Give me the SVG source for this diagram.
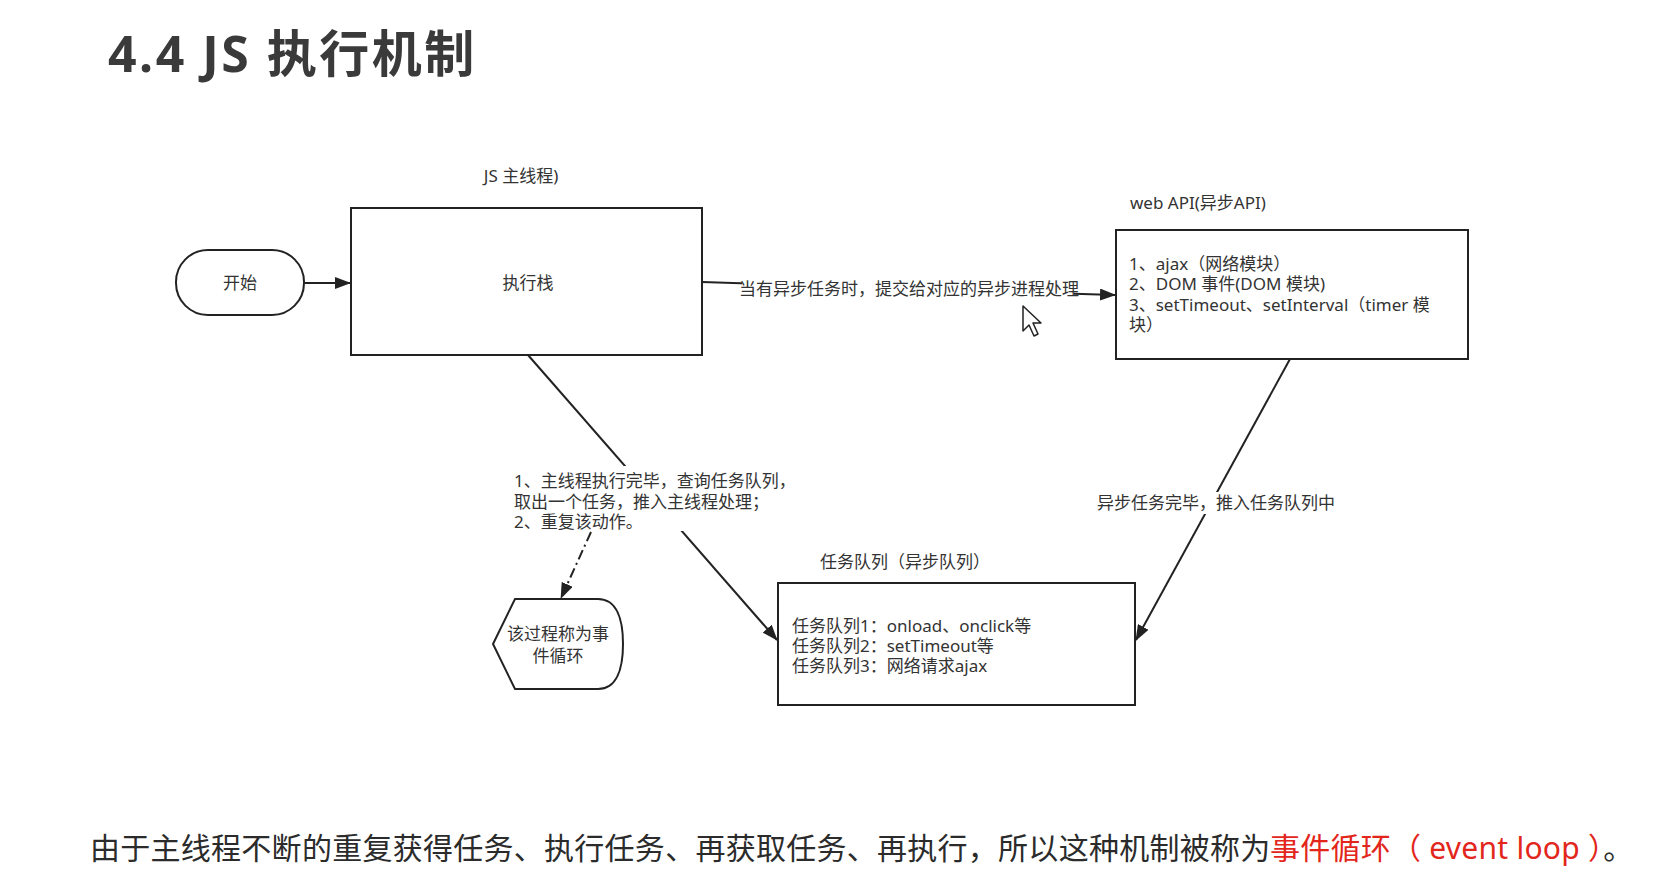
<svg xmlns="http://www.w3.org/2000/svg" width="1656" height="889" viewBox="0 0 1656 889">
  <style>
    .t { font-family: 'Noto Sans', 'Noto Sans CJK SC', sans-serif; font-size: 17px; fill: #333; }
    .box { fill: #fff; stroke: #222; stroke-width: 2; }
    .edge { fill: none; stroke: #222; stroke-width: 2; }
    .bg { fill: #fff; }
    .title { font-family: 'Noto Sans', 'Noto Sans CJK SC', sans-serif; font-size: 50px; font-weight: bold; fill: #3a3a3a; letter-spacing: 2.5px; }
    .caption { font-family: 'Noto Sans', 'Noto Sans CJK SC', sans-serif; font-size: 30px; fill: #2b2b2b; }
    .red { fill: #e3261b; letter-spacing: 0.25px; }
  </style>
  <defs>
    <marker id="arrow" markerUnits="userSpaceOnUse" markerWidth="16" markerHeight="12" viewBox="0 0 16 12" refX="15" refY="6" orient="auto">
      <path d="M0,0 L16,6 L0,12 z" fill="#222"/>
    </marker>
  </defs>

  <rect width="1656" height="889" fill="#fff"/>

  <!-- heading -->
  <text class="title" x="108" y="72">4.4 JS 执行机制</text>

  <!-- connectors -->
  <g id="connectors">
    <line class="edge" x1="305" y1="283" x2="350" y2="283" marker-end="url(#arrow)"/>

    <line class="edge" x1="702" y1="282" x2="1115" y2="295" marker-end="url(#arrow)"/>
    <rect class="bg" x="742" y="278" width="332" height="22"/>
    <text class="t" x="909" y="295" text-anchor="middle">当有异步任务时，提交给对应的异步进程处理</text>

    <line class="edge" x1="528" y1="355" x2="777" y2="640" marker-end="url(#arrow)"/>
    <rect class="bg" x="510" y="466" width="282" height="65"/>
    <text class="t" x="514" y="487">1、主线程执行完毕，查询任务队列，</text>
    <text class="t" x="514" y="508">取出一个任务，推入主线程处理；</text>
    <text class="t" x="514" y="528">2、重复该动作。</text>

    <line class="edge" x1="591" y1="532" x2="561" y2="598" stroke-dasharray="10 4 2 4" marker-end="url(#arrow)"/>

    <line class="edge" x1="1290" y1="359" x2="1136" y2="640" marker-end="url(#arrow)"/>
    <rect class="bg" x="1095" y="492" width="235" height="22"/>
    <text class="t" x="1097" y="509">异步任务完毕，推入任务队列中</text>
  </g>

  <!-- start terminator -->
  <g id="start">
    <rect class="box" x="176" y="250" width="128" height="65" rx="32" ry="32"/>
    <text class="t" x="240" y="289" text-anchor="middle">开始</text>
  </g>

  <!-- main thread / call stack -->
  <g id="main-thread">
    <text class="t" x="521" y="182" text-anchor="middle">JS 主线程)</text>
    <rect class="box" x="351" y="208" width="351" height="147"/>
    <text class="t" x="528" y="289" text-anchor="middle">执行栈</text>
  </g>

  <!-- web API -->
  <g id="web-api">
    <text class="t" x="1130" y="209">web API(异步API)</text>
    <rect class="box" x="1116" y="230" width="352" height="129"/>
    <text class="t" x="1129" y="270">1、ajax（网络模块）</text>
    <text class="t" x="1129" y="290">2、DOM 事件(DOM 模块)</text>
    <text class="t" x="1129" y="311">3、setTimeout、setInterval（timer 模</text>
    <text class="t" x="1129" y="331">块）</text>
  </g>

  <!-- task queue -->
  <g id="task-queue">
    <text class="t" x="820" y="568">任务队列（异步队列）</text>
    <rect class="box" x="778" y="583" width="357" height="122"/>
    <text class="t" x="792" y="632">任务队列1：onload、onclick等</text>
    <text class="t" x="792" y="652">任务队列2：setTimeout等</text>
    <text class="t" x="792" y="672">任务队列3：网络请求ajax</text>
  </g>

  <!-- event loop display shape -->
  <g id="event-loop">
    <path class="box" d="M515,599 H598 C617,599 623,620 623,644 C623,668 617,689 598,689 H515 L493,644 Z"/>
    <text class="t" x="558" y="640" text-anchor="middle">该过程称为事</text>
    <text class="t" x="558" y="662" text-anchor="middle">件循环</text>
  </g>

  <!-- mouse pointer -->
  <path d="M1023,306 V331 L1029,325 L1034,336 L1038,334 L1033,323 L1041,323 Z" fill="#fff" stroke="#222" stroke-width="1.5" stroke-linejoin="round"/>

  <!-- caption -->
  <text class="caption" x="90" y="859" letter-spacing="0.27">由于主线程不断的重复获得任务、执行任务、再获取任务、再执行，所以这种机制被称为<tspan class="red" x="1270">事件循环（ event loop ）</tspan><tspan letter-spacing="0">。</tspan></text>
</svg>
